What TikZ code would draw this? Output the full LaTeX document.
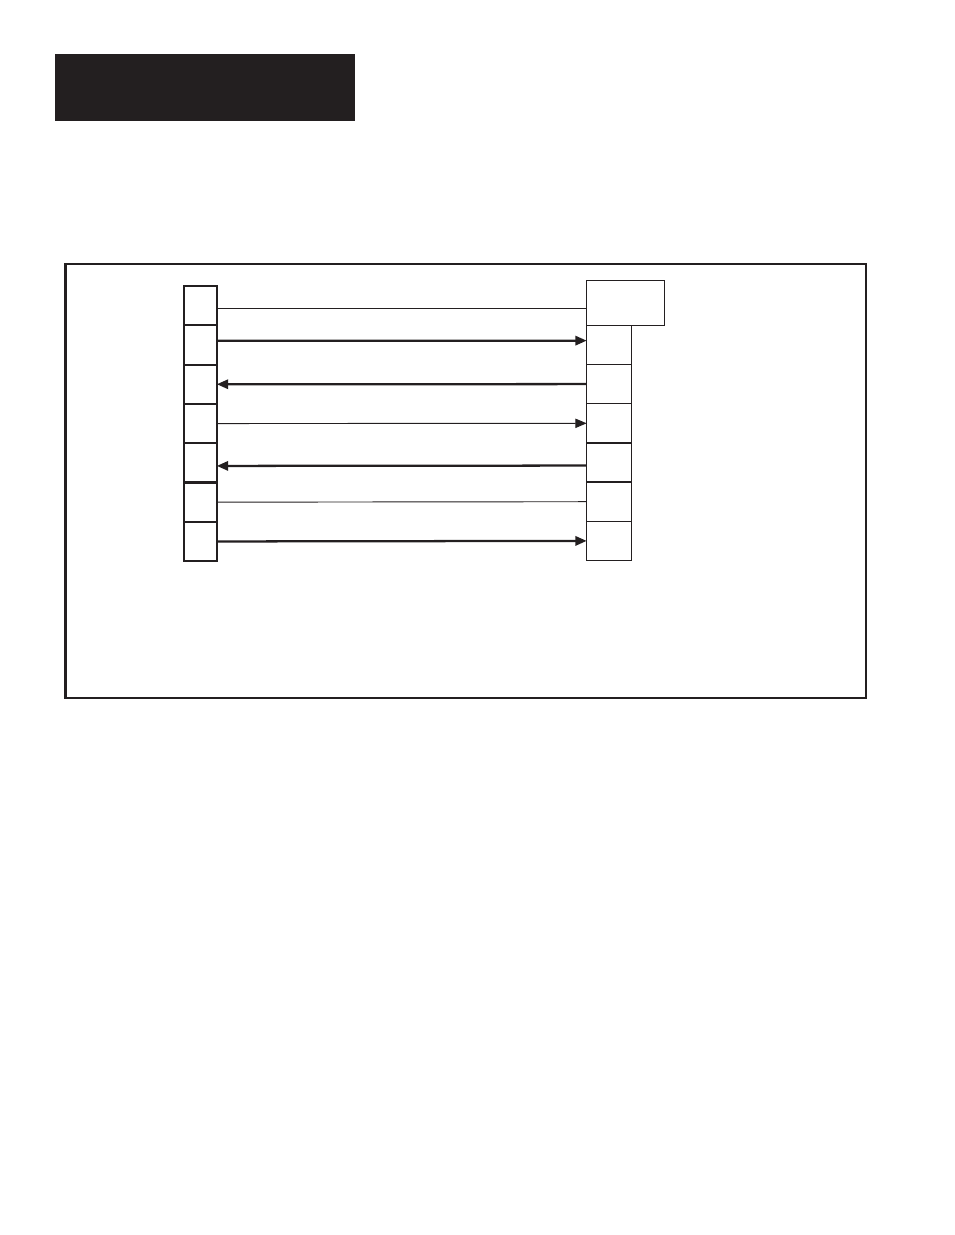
\documentclass[tikz,border=0pt]{standalone}
\usepackage{xcolor}
\usepackage{tikz}
\usetikzlibrary{arrows.meta, positioning}
\definecolor{ink}{HTML}{231F20}

\begin{document}
\begin{tikzpicture}[x=0.75pt,y=-0.75pt,
    wire/.style={draw=ink,line width=0.7pt},
    heavywire/.style={draw=ink,line width=1.7pt},
    tip/.style={-{Triangle[length=8.5pt,width=7pt]}}]
  \useasboundingbox (0,0) rectangle (954,1235);
  \fill[ink] (55,54) rectangle (355,121);
  \draw[ink,line width=2pt] (65.5,264) rectangle (866,698);
  % left connector
  \begin{scope}[every node/.style={draw=ink,line width=1.5pt,inner sep=0pt,outer sep=0pt,minimum width=24.5pt,minimum height=29.5pt}]
    \foreach \i in {1,...,7}
      \node (L\i) at (200.5,{286+39.3*(\i-0.5)}) {};
  \end{scope}
  % right connector
  \begin{scope}[every node/.style={draw=ink,line width=1.1pt,inner sep=0pt,outer sep=0pt,minimum width=33.5pt,minimum height=29.4pt}]
    \node[minimum width=58.2pt,minimum height=33.5pt] (R0) at (625.5,303) {};
    \foreach \i in {1,...,6}
      \node (R\i) at (609,{325.3+39.2*(\i-0.5)}) {};
  \end{scope}
  \begin{scope}
    \draw[wire] ([yshift=-2pt]L1.east) -- ([yshift=-2pt]L1.east -| R0.west);
    \draw[heavywire,tip] ([yshift=3.2pt]L2.east) -- ([yshift=3.2pt]R1.west);
    \draw[heavywire,tip] (R2.west) -- (L3.east);
    \draw[wire,tip] (L4.east) -- (R3.west);
    \draw[heavywire,tip] ([yshift=-2.3pt]R4.west) -- ([yshift=-2.3pt]L5.east);
    \draw[wire] (L6.east) -- (R5.west);
    \draw[heavywire,tip] (L7.east) -- (R6.west);
  \end{scope}
\end{tikzpicture}
\end{document}
